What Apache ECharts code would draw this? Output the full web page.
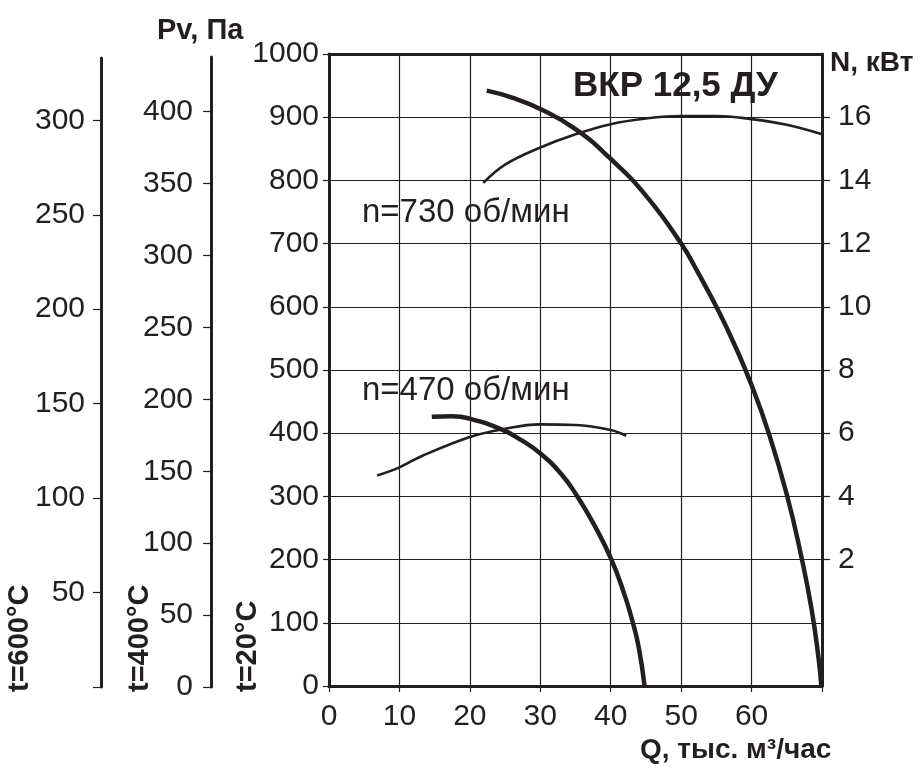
<!DOCTYPE html>
<html>
<head>
<meta charset="utf-8">
<script src="https://cdn.jsdelivr.net/npm/echarts@6.0.0/dist/echarts.min.js"></script>
<style>
  html, body { margin: 0; padding: 0; background: #ffffff; }
  #chart { width: 921px; height: 772px; }
</style>
</head>
<body>
<div id="chart"></div>
<script>
// ---- data ----
// n = 730 rpm : pressure Pv (Pa at 20°C) vs Q (thousand m3/h)
var q730P  = [22.4, 26, 30, 35, 40, 45, 50, 52.5, 55, 57.5, 60, 62.5, 65, 67, 68.5, 69.5, 69.9];
var pv730  = [942, 931, 913, 881, 834, 776, 700, 652, 600, 542, 476, 398, 303, 208, 123, 45, 0];
// n = 730 rpm : power N (kW) vs Q
var q730N  = [21.9, 25, 30, 35, 40, 45, 50, 55, 60, 65, 70];
var pw730  = [13.92, 14.5, 15.04, 15.46, 15.78, 15.96, 16.04, 16.04, 15.94, 15.76, 15.46];
// n = 470 rpm : pressure
var q470P  = [14.6, 17.5, 20, 24.5, 27.3, 30, 33, 35.2, 37.5, 40.1, 42, 43.1, 44, 44.8];
var pv470  = [426, 427, 423, 406, 389, 368, 335, 301, 258, 200, 143, 102, 60, 0];
// n = 470 rpm : power
var q470N  = [6.84, 10, 13.2, 20, 24.5, 30, 35, 40, 42.2];
var pw470  = [4.66, 4.92, 5.28, 5.88, 6.12, 6.28, 6.26, 6.1, 5.92];

// tick labels
var qTicks    = [0, 10, 20, 30, 40, 50, 60];
var nTicks    = [2, 4, 6, 8, 10, 12, 14, 16];
var t400Ticks = [0, 50, 100, 150, 200, 250, 300, 350, 400];
var t600Ticks = [50, 100, 150, 200, 250, 300];

function pairs(xs, ys) { return xs.map(function (x, i) { return [x, ys[i]]; }); }
function plain(v) { return String(v); }

var INK = '#231f20';
var FONT = '"Liberation Sans", Arial, sans-serif';
var tickFont = { color: INK, fontSize: 30, fontFamily: FONT, formatter: plain };

var chart = echarts.init(document.getElementById('chart'), null, { renderer: 'canvas' });

var option = {
  backgroundColor: '#ffffff',
  animation: false,
  grid: [
    { left: 329, right: 99, top: 54, bottom: 86 },
    { left: 211, width: 10, top: 57, bottom: 85 },
    { left: 101, width: 10, top: 58, bottom: 85 }
  ],
  xAxis: [
    { gridIndex: 0, type: 'value', min: 0, max: 70, interval: 10,
      axisLine: { show: true, onZero: false, lineStyle: { color: INK, width: 3 } },
      axisTick: { show: true, inside: false, length: 6, lineStyle: { color: INK, width: 1.2 } },
      axisLabel: Object.assign({ margin: 16, customValues: qTicks }, tickFont),
      splitLine: { show: true, lineStyle: { color: INK, width: 1.2 } } },
    { gridIndex: 0, type: 'value', min: 0, max: 70, position: 'top',
      axisLine: { show: true, onZero: false, lineStyle: { color: INK, width: 3 } },
      axisTick: { show: false }, axisLabel: { show: false }, splitLine: { show: false } },
    { gridIndex: 1, type: 'value', min: 0, max: 1, show: false },
    { gridIndex: 2, type: 'value', min: 0, max: 1, show: false }
  ],
  yAxis: [
    { gridIndex: 0, type: 'value', min: 0, max: 1000, interval: 100, position: 'left',
      axisLine: { show: true, onZero: false, lineStyle: { color: INK, width: 3 } },
      axisTick: { show: true, inside: false, length: 6, lineStyle: { color: INK, width: 1.2 } },
      axisLabel: Object.assign({ margin: 10 }, tickFont),
      splitLine: { show: true, lineStyle: { color: INK, width: 1.2 } } },
    { gridIndex: 0, type: 'value', min: -2, max: 18, interval: 2, position: 'right',
      axisLine: { show: true, onZero: false, lineStyle: { color: INK, width: 3 } },
      axisTick: { show: true, inside: false, length: 8, customValues: nTicks, lineStyle: { color: INK, width: 1.2 } },
      axisLabel: Object.assign({ margin: 16, customValues: nTicks }, tickFont),
      splitLine: { show: false } },
    { gridIndex: 1, type: 'value', min: 0, max: 438, position: 'left',
      axisLine: { show: true, onZero: false, lineStyle: { color: INK, width: 3 } },
      axisTick: { show: true, inside: false, length: 8, customValues: t400Ticks, lineStyle: { color: INK, width: 1.2 } },
      axisLabel: Object.assign({ margin: 18, customValues: t400Ticks }, tickFont),
      splitLine: { show: false } },
    { gridIndex: 2, type: 'value', min: 0, max: 333, position: 'left',
      axisLine: { show: true, onZero: false, lineStyle: { color: INK, width: 3 } },
      axisTick: { show: true, inside: false, length: 8, customValues: [0].concat(t600Ticks), lineStyle: { color: INK, width: 1.2 } },
      axisLabel: Object.assign({ margin: 16, customValues: t600Ticks }, tickFont),
      splitLine: { show: false } }
  ],
  series: [
    { name: 'Pv n=730', type: 'line', xAxisIndex: 0, yAxisIndex: 0, data: pairs(q730P, pv730),
      smooth: 0.5, showSymbol: false, symbol: 'none',
      lineStyle: { color: INK, width: 4.5 } },
    { name: 'N n=730', type: 'line', xAxisIndex: 0, yAxisIndex: 1, data: pairs(q730N, pw730),
      smooth: 0.4, showSymbol: false, symbol: 'none',
      lineStyle: { color: INK, width: 2.6 } },
    { name: 'Pv n=470', type: 'line', xAxisIndex: 0, yAxisIndex: 0, data: pairs(q470P, pv470),
      smooth: 0.5, showSymbol: false, symbol: 'none',
      lineStyle: { color: INK, width: 4.5 } },
    { name: 'N n=470', type: 'line', xAxisIndex: 0, yAxisIndex: 1, data: pairs(q470N, pw470),
      smooth: 0.4, showSymbol: false, symbol: 'none',
      lineStyle: { color: INK, width: 2.6 } }
  ],
  graphic: [
    { type: 'text', left: 157, top: 16, style: { text: 'Pv, Па', fill: INK, font: 'bold 29px ' + FONT } },
    { type: 'text', left: 830, top: 49, style: { text: 'N, кВт', fill: INK, font: 'bold 28px ' + FONT } },
    { type: 'text', left: 640, top: 736, style: { text: 'Q, тыс. м³/час', fill: INK, font: 'bold 28px ' + FONT } },
    { type: 'text', left: 573, top: 69, style: { text: 'ВКР 12,5 ДУ', fill: INK, font: 'bold 35px ' + FONT } },
    { type: 'text', left: 362, top: 196, style: { text: 'n=730 об/мин', fill: INK, font: '33px ' + FONT } },
    { type: 'text', left: 362, top: 374, style: { text: 'n=470 об/мин', fill: INK, font: '33px ' + FONT } },
    { type: 'text', x: 20, y: 692, rotation: Math.PI / 2,
      style: { text: 't=600°C', fill: INK, font: 'bold 29px ' + FONT, textAlign: 'left', textVerticalAlign: 'middle' } },
    { type: 'text', x: 140, y: 692, rotation: Math.PI / 2,
      style: { text: 't=400°C', fill: INK, font: 'bold 29px ' + FONT, textAlign: 'left', textVerticalAlign: 'middle' } },
    { type: 'text', x: 248, y: 692, rotation: Math.PI / 2,
      style: { text: 't=20°C', fill: INK, font: 'bold 29px ' + FONT, textAlign: 'left', textVerticalAlign: 'middle' } }
  ]
};
chart.setOption(option);
</script>
</body>
</html>
